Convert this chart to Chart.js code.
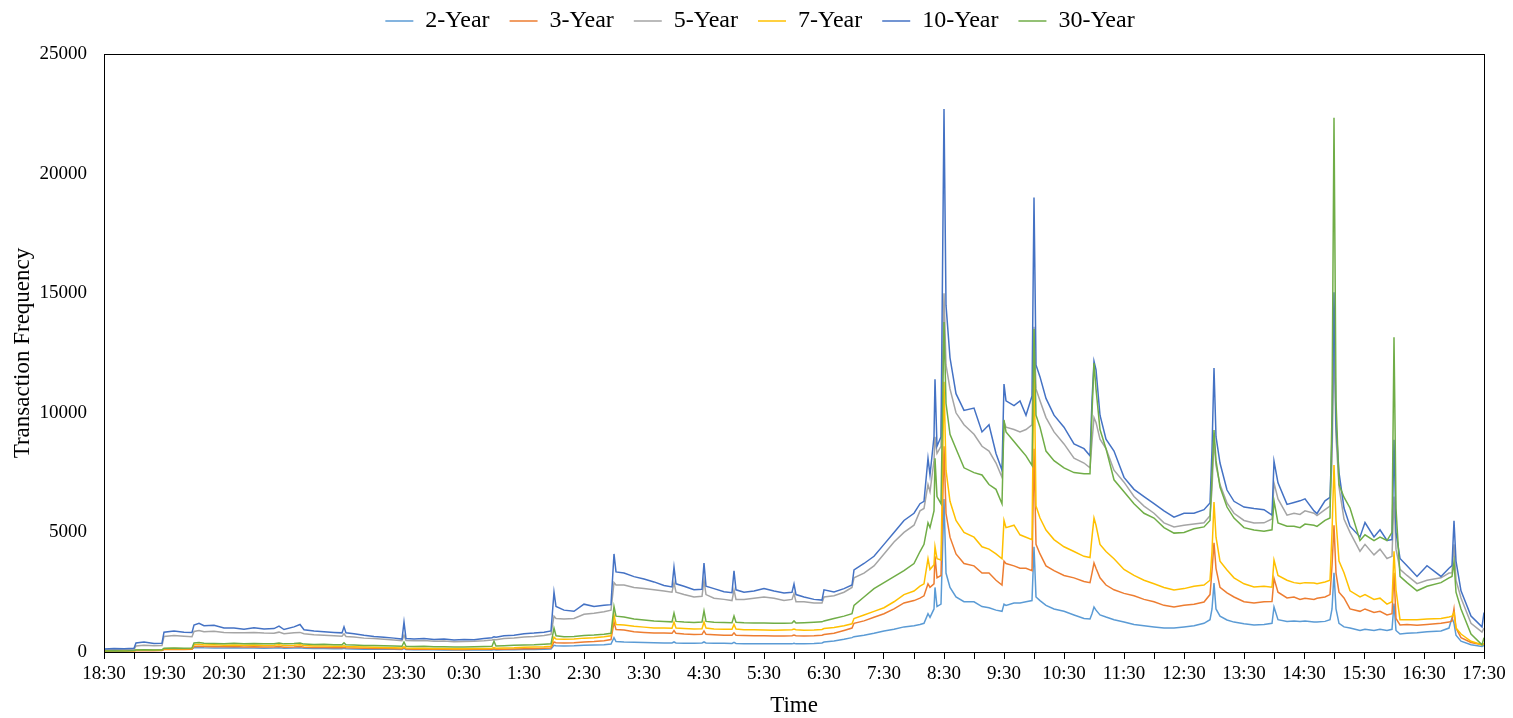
<!DOCTYPE html>
<html>
<head>
<meta charset="utf-8">
<script src="https://cdn.jsdelivr.net/npm/chart.js@4.4.0/dist/chart.umd.min.js"></script>
<style>
  html, body { margin: 0; padding: 0; background: #fff; }
  #wrap { width: 1513px; height: 718px; }
</style>
</head>
<body>
<div id="wrap"><canvas id="freqChart" width="1513" height="718"></canvas></div>
<script>
// minutes after 18:30
const times = [0,10,20,30,32,40,50,58,60,70,
  80,88,90,95,100,110,120,130,140,150,
  160,170,175,180,190,196,200,210,220,230,
  238,240,242,250,260,270,280,290,298,300,
  302,310,320,330,340,350,360,370,380,388,
  390,392,400,410,420,430,440,447,450,452,
  460,470,480,490,500,507,510,512,520,530,
  540,550,560,568,570,572,580,590,598,600,
  602,610,620,628,630,632,640,650,660,670,
  680,688,690,692,700,710,718,720,730,740,
  748,750,760,770,780,790,800,810,816,820,
  824,826,830,831,833,837,840,842,846,852,
  860,870,878,885,892,898,900,902,910,916,
  922,928,930,932,936,942,950,960,970,980,
  986,988,990,992,996,1002,1010,1020,1030,1040,
  1050,1060,1070,1080,1090,1100,1106,1108,1110,1112,
  1116,1123,1130,1140,1150,1160,1168,1170,1174,1183,
  1190,1196,1201,1210,1213,1221,1226,1228,1230,1232,
  1235,1240,1246,1256,1261,1270,1276,1283,1288,1290,
  1292,1296,1303,1313,1323,1337,1345,1348,1350,1352,
  1357,1367,1378,1380];

const hourLabels = ['18:30','19:30','20:30','21:30','22:30','23:30','0:30','1:30','2:30','3:30','4:30','5:30',
  '6:30','7:30','8:30','9:30','10:30','11:30','12:30','13:30','14:30','15:30','16:30','17:30'];

const seriesNames = ['2-Year', '3-Year', '5-Year', '7-Year', '10-Year', '30-Year'];

const y2 = [60,70,60,70,80,80,70,80,110,120,
  110,120,180,190,180,170,170,180,170,170,
  160,170,180,160,170,180,160,150,150,140,
  140,160,140,130,120,120,110,110,100,150,
  100,90,90,90,80,80,80,80,80,80,
  100,80,90,90,100,100,110,120,280,260,
  250,260,280,290,300,330,600,440,420,410,
  400,390,380,380,420,380,370,370,380,420,
  380,370,370,360,400,360,350,350,350,340,
  340,340,360,340,350,360,380,420,460,530,
  600,640,700,780,880,950,1050,1100,1150,1200,
  1600,1450,1800,2700,1900,2000,6400,3300,2700,2300,
  2100,2100,1900,1850,1750,1700,2000,1950,2050,2050,
  2100,2150,4400,2300,2150,1950,1800,1700,1550,1400,
  1380,1600,1880,1750,1550,1460,1350,1250,1150,1100,
  1050,1000,1000,1050,1100,1200,1350,1800,2880,1800,
  1500,1340,1250,1180,1130,1150,1200,1880,1350,1280,
  1300,1280,1300,1250,1250,1280,1350,1800,3310,1800,
  1200,1050,1000,900,950,900,950,900,950,2030,
  900,750,780,800,850,880,1000,1430,1200,700,
  450,300,230,280];

const y3 = [30,40,40,40,50,60,50,60,100,110,
  100,110,230,240,230,220,220,230,210,220,
  210,210,230,200,210,230,200,190,190,180,
  180,200,180,170,160,150,150,140,130,180,
  130,120,120,110,110,100,100,110,110,110,
  130,110,120,130,140,140,160,170,420,390,
  380,390,420,440,470,520,1250,940,920,850,
  820,790,790,780,900,780,750,730,740,880,
  740,720,700,700,800,700,690,680,680,670,
  670,680,710,680,670,680,700,730,780,900,
  1000,1200,1300,1450,1600,1800,2050,2150,2250,2350,
  2850,2700,2850,4000,3100,3200,8600,5800,4800,4100,
  3700,3600,3300,3300,3000,2800,3800,3700,3600,3500,
  3500,3400,8500,4500,4100,3600,3400,3200,3100,2950,
  2900,3300,3720,3500,3100,2800,2600,2450,2350,2200,
  2100,1950,1880,1950,2000,2090,2400,3400,4560,3500,
  2700,2470,2300,2100,2050,2100,2110,3080,2500,2260,
  2300,2200,2250,2200,2250,2300,2400,3600,5300,3300,
  2500,2260,1800,1700,1800,1650,1700,1550,1600,3310,
  1400,1130,1150,1120,1150,1200,1250,1300,1800,1000,
  600,400,300,350];

const y5 = [90,100,90,110,250,280,260,270,650,690,
  660,640,860,900,850,870,820,800,800,820,
  790,780,830,760,800,820,760,720,700,680,
  660,760,650,630,580,560,530,500,470,700,
  480,470,480,450,460,430,440,450,470,500,
  520,510,560,590,630,650,690,740,1500,1400,
  1380,1400,1580,1620,1680,1750,2900,2800,2800,2700,
  2650,2600,2550,2500,2900,2500,2400,2300,2330,3000,
  2400,2250,2200,2150,2600,2200,2200,2250,2300,2250,
  2150,2200,2450,2100,2100,2050,2050,2300,2350,2500,
  2700,3100,3300,3600,4100,4600,5000,5300,5900,6000,
  7000,6700,8000,9000,8300,8600,15000,12000,11000,10000,
  9500,9100,8600,8400,7900,7300,9600,9400,9300,9200,
  9300,9500,13600,11000,10500,9800,9200,8700,8100,7900,
  7700,8800,9800,9600,8900,8500,7600,7100,6500,6100,
  5800,5400,5230,5300,5350,5400,5700,6800,8860,7800,
  7000,6230,5800,5500,5390,5400,5560,7070,6400,5720,
  5800,5750,5900,5800,5700,5950,6100,8000,13000,9000,
  6900,5560,5000,4210,4500,4060,4300,3910,4000,6500,
  4300,3460,3200,2860,3000,3100,3300,3310,4500,3000,
  2260,1200,830,1000];

const y7 = [40,50,50,50,70,80,70,80,140,150,
  140,150,300,320,290,300,280,290,280,290,
  270,280,300,270,280,300,270,250,250,240,
  240,260,230,220,210,200,190,180,170,220,
  170,160,160,150,150,140,140,150,150,160,
  190,160,170,180,200,210,220,240,620,540,
  530,540,580,600,640,680,1550,1150,1130,1080,
  1040,1000,1000,990,1250,1000,980,960,970,1250,
  1000,960,950,950,1150,960,930,930,920,910,
  920,930,960,930,910,920,940,980,1020,1100,
  1180,1400,1550,1700,1850,2100,2400,2550,2750,2850,
  3900,3450,3650,4400,3900,3850,11300,7600,6300,5500,
  5000,4800,4400,4300,4100,3900,5500,5200,5300,4900,
  4800,4700,12500,6100,5600,5100,4700,4400,4200,4000,
  3950,4800,5600,5300,4500,4200,3900,3450,3200,3000,
  2850,2700,2590,2650,2750,2800,3000,4200,6270,4800,
  3800,3430,3100,2850,2720,2750,2710,3840,3200,3000,
  2900,2860,2900,2880,2850,2930,3000,5000,7820,5500,
  3800,3310,2560,2300,2400,2200,2250,2000,2100,4210,
  2600,1350,1350,1350,1380,1400,1460,1500,1650,1000,
  750,450,300,350];

const y10 = [130,150,140,160,380,420,360,370,830,880,
  830,820,1130,1200,1100,1120,1000,1000,950,1010,
  960,980,1080,940,1050,1150,930,880,850,820,
  800,1050,800,760,700,650,620,580,540,1250,
  560,540,560,520,540,500,520,510,560,600,
  640,620,680,700,760,790,830,880,2500,1900,
  1750,1700,2000,1900,1950,1980,4100,3350,3300,3150,
  3050,2930,2780,2720,3550,2850,2750,2600,2620,3720,
  2750,2650,2520,2480,3390,2600,2500,2550,2650,2550,
  2470,2500,2840,2400,2300,2200,2170,2600,2510,2650,
  2800,3430,3700,4000,4500,5000,5500,5800,6200,6300,
  8100,7400,9000,11400,8600,9000,22700,14500,12300,10800,
  10100,10200,9200,9500,8300,7600,11200,10500,10300,10500,
  9900,10700,19000,12000,11500,10600,9900,9400,8700,8500,
  8200,10500,12150,11800,9900,8900,8400,7300,6800,6500,
  6200,5900,5640,5800,5800,5950,6230,8440,11870,9000,
  7900,6770,6300,6060,6000,5950,5720,7970,7070,6170,
  6250,6320,6400,5900,5790,6320,6470,9000,15040,9500,
  7500,6020,5260,4810,5410,4810,5110,4660,4700,8870,
  5000,3910,3610,3160,3610,3160,3500,3610,5490,3800,
  2560,1500,1050,1650];

const y30 = [40,50,40,60,80,90,80,90,160,170,
  160,170,380,400,370,360,350,370,340,360,
  340,350,380,340,360,380,330,310,320,300,
  300,380,300,290,270,270,260,250,240,420,
  240,230,240,220,220,210,210,220,230,240,
  450,250,260,280,290,300,320,340,1000,680,
  640,650,690,710,740,780,1900,1500,1460,1380,
  1340,1300,1280,1260,1630,1280,1250,1230,1250,1720,
  1280,1240,1230,1220,1500,1240,1220,1210,1210,1200,
  1200,1210,1300,1210,1220,1240,1260,1300,1400,1500,
  1600,1950,2300,2650,2900,3150,3400,3700,4200,4500,
  5400,5200,5900,8100,6500,6200,13800,10400,9100,8500,
  7700,7500,7400,7000,6800,6200,9700,9200,8800,8500,
  8200,7800,13500,9900,9400,8400,8000,7700,7500,7450,
  7450,10000,12080,11000,9300,8500,7200,6700,6200,5800,
  5600,5200,4970,5000,5150,5230,5500,7400,9280,8000,
  6900,6060,5600,5200,5100,5050,5110,6320,5400,5260,
  5260,5200,5350,5300,5250,5500,5600,10000,22330,10500,
  7000,6470,6020,4660,4900,4660,4800,4660,5000,13160,
  6000,3160,2900,2560,2750,2900,3100,3160,3760,2500,
  1800,750,300,600];

const seriesValues = [y2, y3, y5, y7, y10, y30];
const seriesColors = ['#5B9BD5', '#ED7D31', '#A5A5A5', '#FFC000', '#4472C4', '#70AD47'];

const serif = 'Liberation Serif, Times New Roman, serif';

// later series drawn on top, like the original
const datasets = seriesNames.map((name, i) => ({
  label: name,
  data: times.map((t, j) => ({ x: t, y: seriesValues[i][j] })),
  borderColor: seriesColors[i],
  backgroundColor: seriesColors[i],
  borderWidth: 1.5,
  pointRadius: 0,
  tension: 0,
  order: seriesNames.length - 1 - i
}));

// box around the plot area
const plotFrame = {
  id: 'plotFrame',
  afterDraw(chart) {
    const a = chart.chartArea;
    const ctx = chart.ctx;
    ctx.save();
    ctx.strokeStyle = '#000';
    ctx.lineWidth = 1;
    ctx.strokeRect(Math.round(a.left) + 0.5, Math.round(a.top) + 0.5, Math.round(a.right - a.left), Math.round(a.bottom - a.top));
    ctx.restore();
  }
};

// extra room under the legend, and center it on the whole page
const legendSpacer = {
  id: 'legendSpacer',
  beforeInit(chart) {
    const origFit = chart.legend.fit;
    chart.legend.fit = function () {
      origFit.bind(chart.legend)();
      this.height += 11;
    };
  },
  afterLayout(chart) {
    chart.legend.left += 18;
    chart.legend.right += 18;
  }
};

new Chart(document.getElementById('freqChart'), {
  type: 'line',
  data: { datasets: datasets },
  plugins: [plotFrame, legendSpacer],
  options: {
    responsive: false,
    animation: false,
    devicePixelRatio: 1,
    layout: { padding: { top: -11, right: 29, bottom: 0, left: 0 } },
    plugins: {
      legend: {
        position: 'top',
        labels: {
          usePointStyle: true,
          pointStyle: 'line',
          pointStyleWidth: 28,
          padding: 20,
          color: '#000',
          font: { family: serif, size: 24 },
          sort: (a, b) => a.datasetIndex - b.datasetIndex
        }
      },
      tooltip: { enabled: false }
    },
    scales: {
      x: {
        type: 'linear',
        min: 0,
        max: 1380,
        afterBuildTicks: (axis) => {
          const ticks = [];
          for (let v = 0; v <= 1380; v += 30) ticks.push({ value: v });
          axis.ticks = ticks;
        },
        afterFit: (scale) => { scale.height = 66; },
        ticks: {
          autoSkip: false,
          maxRotation: 0,
          padding: 4,
          color: '#000',
          font: { family: serif, size: 19 },
          callback: (value) => (value % 60 === 0 ? hourLabels[value / 60] : '')
        },
        grid: { drawOnChartArea: false, drawTicks: true, tickLength: 7, color: '#000' },
        border: { color: '#000', width: 1 },
        title: {
          display: true,
          text: 'Time',
          color: '#000',
          font: { family: serif, size: 23 },
          padding: { top: 0, bottom: -2 }
        }
      },
      y: {
        min: 0,
        max: 25000,
        afterFit: (scale) => { scale.width = 104; },
        ticks: {
          stepSize: 5000,
          padding: 17,
          color: '#000',
          font: { family: serif, size: 19 },
          callback: (value) => String(value)
        },
        grid: { drawOnChartArea: false, drawTicks: false },
        border: { color: '#000', width: 1 },
        title: {
          display: true,
          text: 'Transaction Frequency',
          color: '#000',
          font: { family: serif, size: 23 },
          padding: { top: 9, bottom: 0 }
        }
      }
    }
  }
});
</script>
</body>
</html>
